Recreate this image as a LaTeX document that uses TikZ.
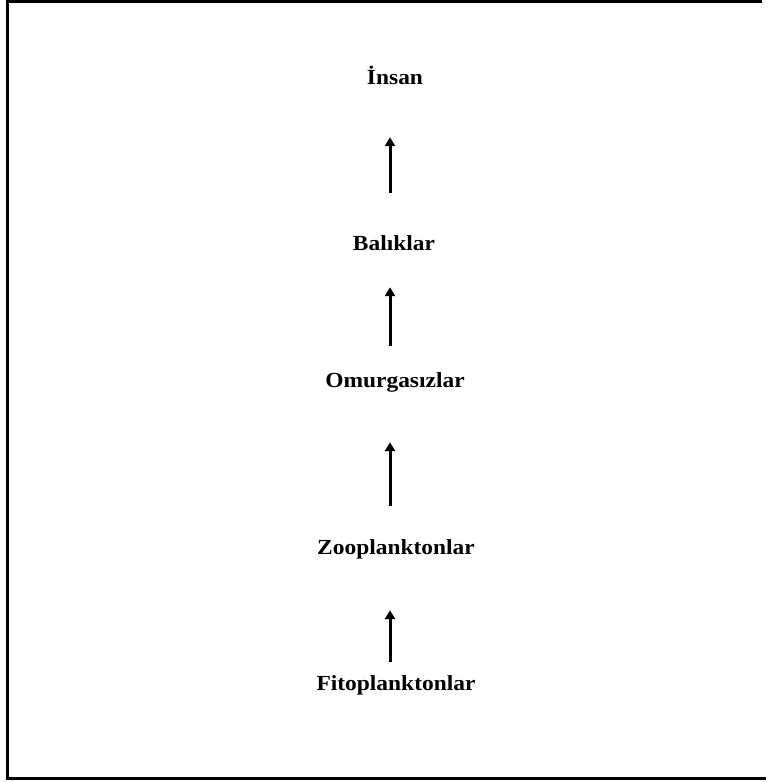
\documentclass[tikz,border=0pt]{standalone}
\usepackage{fontspec}
\setmainfont{Liberation Serif}[FakeStretch=1.09]
\usetikzlibrary{arrows.meta}
\begin{document}
\begin{tikzpicture}[x=1pt,y=-1pt,
  level/.style={inner sep=0pt, anchor=base, text height=15pt, text depth=5pt,
    font=\fontsize{21.5}{24}\selectfont\bfseries},
  uparrow/.style={line width=3pt, -{Triangle[width=10pt,length=9pt]}},
  frame/.style={line width=3pt}]
\useasboundingbox (0,0) rectangle (771,782);
% open frame: top, left and bottom sides
\draw[frame] (762,1) -- (7,1) -- (7,778) -- (766,778);
% trophic levels, bottom to top
\node[level] (fito)  at (396,690) {Fitoplanktonlar};
\node[level] (zoo)   at (396,554) {Zooplanktonlar};
\node[level] (omur)  at (395,387) {Omurgasızlar};
\node[level] (balik) at (394,250) {Balıklar};
\node[level] (insan) at (395,84)  {İnsan};
% feeding arrows
\draw[uparrow, shorten <=13pt, shorten >=51pt] ([xshift=-6pt]fito.north) -- ([xshift=-6pt]zoo.south);
\draw[uparrow, shorten <=33pt, shorten >=50pt] ([xshift=-6pt]zoo.north) -- ([xshift=-5pt]omur.south);
\draw[uparrow, shorten <=26pt, shorten >=32pt] ([xshift=-5pt]omur.north) -- ([xshift=-4pt]balik.south);
\draw[uparrow, shorten <=42pt, shorten >=48pt] ([xshift=-4pt]balik.north) -- ([xshift=-5pt]insan.south);
\end{tikzpicture}
\end{document}
